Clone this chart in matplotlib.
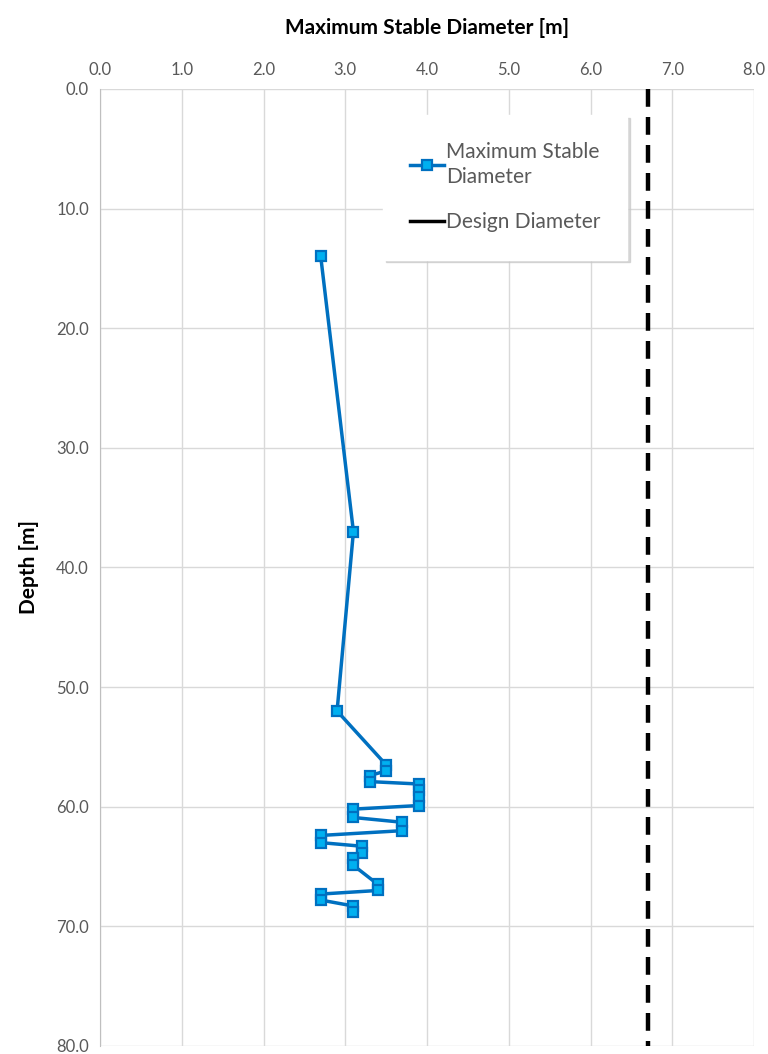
import matplotlib.pyplot as plt
from matplotlib.lines import Line2D

diameter = [2.7, 3.1, 2.9, 3.5, 3.5, 3.3, 3.3, 3.9, 3.9, 3.9, 3.9,
            3.1, 3.1, 3.7, 3.7, 2.7, 2.7, 3.2, 3.2, 3.1, 3.1,
            3.4, 3.4, 2.7, 2.7, 3.1, 3.1]
depth = [14.0, 37.0, 52.0, 56.5, 57.0, 57.4, 57.9, 58.1, 58.6, 59.2, 59.9,
         60.2, 60.9, 61.3, 62.0, 62.4, 63.0, 63.3, 63.9, 64.3, 64.9,
         66.5, 67.0, 67.3, 67.8, 68.3, 68.8]
design_diameter = 6.7
depth_range = [0.0, 80.0]

plt.rcParams["font.family"] = ["Lato", "DejaVu Sans"]

fig = plt.figure(figsize=(7.68, 10.54), dpi=100)
ax = fig.add_axes([0.1302, 0.0076, 0.8516, 0.908])

ax.plot(diameter, depth, color="#0070c0", lw=2.5, marker="s", ms=7.5,
        mfc="#00b0f0", mec="#0070c0", mew=1.6, zorder=3)
ax.plot([design_diameter] * 2, depth_range, color="black", lw=3.2,
        dashes=(4, 2.3), zorder=2)

ax.set_xlim(0, 8)
ax.set_ylim(80, 0)
ax.set_xticks(range(0, 9))
ax.set_yticks(range(0, 81, 10))
ax.xaxis.set_major_formatter(lambda v, p: f"{v:.1f}")
ax.yaxis.set_major_formatter(lambda v, p: f"{v:.1f}")
ax.xaxis.tick_top()
ax.tick_params(length=0, labelsize=12, colors="#595959", pad=8)
ax.xaxis.set_label_position("top")
ax.set_xlabel("Maximum Stable Diameter [m]", fontsize=15, fontweight="bold", labelpad=20)
ax.set_ylabel("Depth [m]", fontsize=15, fontweight="bold", labelpad=12)
ax.grid(color="#d9d9d9", lw=1)
ax.set_axisbelow(True)
for s in ax.spines.values():
    s.set_visible(False)
ax.spines["left"].set_visible(True)
ax.spines["left"].set_color("#bfbfbf")

handles = [
    Line2D([], [], color="#0070c0", lw=2.5, marker="s", ms=7.5,
           mfc="#00b0f0", mec="#0070c0", mew=1.6),
    Line2D([], [], color="black", lw=2.5),
]
leg = ax.legend(handles, ["Maximum Stable\nDiameter", "Design Diameter"],
                loc="upper left", bbox_to_anchor=(0.433, 0.973),
                fontsize=15, frameon=True, fancybox=False,
                shadow={"color": "#c8c8c8", "alpha": 0.7, "ox": 2, "oy": -2},
                handlelength=1.6, handletextpad=0.1, labelspacing=1.2,
                borderpad=1.3, borderaxespad=0)
for t in leg.get_texts():
    t.set_color("#595959")
    t.set_linespacing(1.35)
leg.get_frame().set_edgecolor("white")

fig.savefig("out.png", dpi=100)
